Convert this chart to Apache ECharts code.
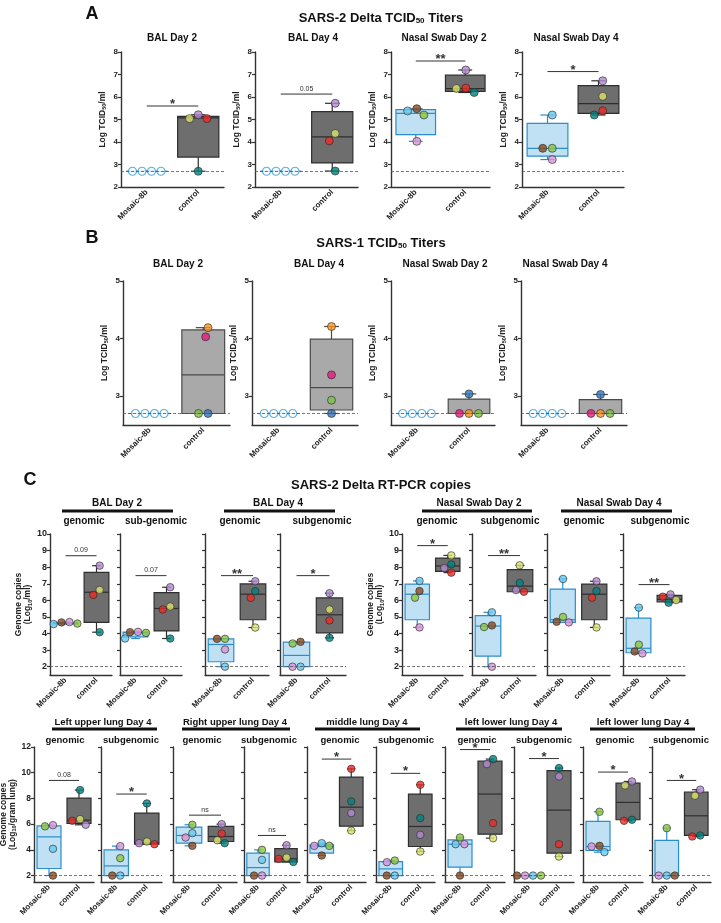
<!DOCTYPE html>
<html>
<head>
<meta charset="utf-8">
<script src="https://cdn.jsdelivr.net/npm/echarts@6/dist/echarts.min.js"></script>
<style>
html, body { margin: 0; background: #fff; }
#main { width: 721px; height: 923px; }
</style>
</head>
<body>
<div id="main"></div>
<script>
// ---------- data ----------
const groups = ['Mosaic-8b', 'control'];
// animal colours: mosaic [lightblue, pink, green, brown], control [purple, yellowgreen, red, teal]
const mosaicColors = ['#66c8f0', '#db94d9', '#8cc640', '#8a4a1e'];
const controlColors = ['#b388d0', '#d9e46c', '#ec2a25', '#00827d'];
// SARS-1 control animals [orange, magenta, blue, green]
const sars1Colors = ['#f7941e', '#e5197d', '#2f77bd', '#7bc143'];

// A: SARS-2 Delta TCID50 (log TCID50/ml)
const aTitles = ['BAL Day 2', 'BAL Day 4', 'Nasal Swab Day 2', 'Nasal Swab Day 4'];
const aMosaic = [[2.7, 2.7, 2.7, 2.7], [2.7, 2.7, 2.7, 2.7], [5.38, 4.03, 5.2, 5.48], [5.2, 3.22, 3.72, 3.72]];
const aControl = [[5.21, 5.04, 5.04, 2.7], [5.72, 4.38, 4.05, 2.71], [7.2, 6.38, 6.4, 6.2], [6.72, 6.03, 5.39, 5.2]];
const aMosaicBox = [[2.7, 2.7, 2.7, 2.7, 2.7], [2.7, 2.7, 2.7, 2.7, 2.7], [4.03, 4.33, 5.27, 5.44, 5.48], [3.22, 3.37, 3.72, 4.83, 5.2]];
const aControlBox = [[2.7, 3.33, 5.07, 5.14, 5.21], [2.71, 3.07, 4.23, 5.35, 5.72], [6.2, 6.25, 6.37, 6.97, 7.2], [5.2, 5.27, 5.71, 6.51, 6.72]];
const aSig = [[5.6, '*'], [6.13, '0.05'], [7.6, '**'], [7.13, '*']];
const aOpen = [true, true, false, false];

// B: SARS-1 TCID50 (log TCID50/ml)
const bTitles = ['BAL Day 2', 'BAL Day 4', 'Nasal Swab Day 2', 'Nasal Swab Day 4'];
const bMosaic = [[2.7, 2.7, 2.7, 2.7], [2.7, 2.7, 2.7, 2.7], [2.7, 2.7, 2.7, 2.7], [2.7, 2.7, 2.7, 2.7]];
const bControl = [[4.19, 4.03, 2.7, 2.7], [4.21, 3.37, 2.7, 2.93], [2.7, 2.7, 3.04, 2.7], [2.7, 2.7, 3.03, 2.7]];
const bMosaicBox = [[2.7, 2.7, 2.7, 2.7, 2.7], [2.7, 2.7, 2.7, 2.7, 2.7], [2.7, 2.7, 2.7, 2.7, 2.7], [2.7, 2.7, 2.7, 2.7, 2.7]];
const bControlBox = [[2.7, 2.7, 3.37, 4.15, 4.19], [2.7, 2.76, 3.15, 3.99, 4.21], [2.7, 2.7, 2.7, 2.95, 3.04], [2.7, 2.7, 2.7, 2.94, 3.03]];

// C row 1: RT-PCR copies (log10/ml)
const cGroups = ['BAL Day 2', 'BAL Day 4', 'Nasal Swab Day 2', 'Nasal Swab Day 4'];
const cSub = ['genomic', 'sub-genomic', 'genomic', 'subgenomic', 'genomic', 'subgenomic', 'genomic', 'subgenomic'];
const cMosaic = [[4.57, 4.69, 4.6, 4.67], [3.7, 4.1, 4.04, 4.08], [2.0, 3.04, 3.68, 3.68], [2.0, 2.0, 3.4, 3.5],
  [7.17, 4.37, 6.16, 6.56], [5.28, 2.0, 4.39, 4.49], [7.29, 4.67, 5.0, 4.71], [5.56, 2.8, 3.33, 2.92]];
const cControl = [[8.09, 6.63, 6.33, 4.08], [6.79, 5.63, 5.45, 3.7], [7.15, 4.36, 6.15, 6.55], [6.43, 5.45, 4.79, 3.74],
  [7.95, 8.71, 7.67, 8.17], [6.62, 8.11, 6.52, 7.05], [7.15, 4.37, 6.16, 6.56], [6.36, 6.02, 6.22, 5.86]];
const cMosaicBox = [[4.57, 4.58, 4.62, 4.66, 4.69], [3.7, 3.8, 4.05, 4.09, 4.1], [2.0, 2.3, 3.34, 3.68, 3.68], [2.0, 2.0, 2.68, 3.48, 3.5],
  [4.37, 4.83, 6.37, 6.98, 7.17], [2.0, 2.64, 4.45, 5.08, 5.28], [4.67, 4.67, 4.83, 6.68, 7.29], [2.8, 2.84, 3.11, 4.93, 5.56]];
const cControlBox = [[4.08, 4.67, 6.49, 7.69, 8.09], [3.7, 4.16, 5.51, 6.47, 6.79], [4.36, 4.83, 6.37, 6.99, 7.15], [3.74, 4.04, 5.13, 6.15, 6.43],
  [7.67, 7.75, 8.07, 8.55, 8.71], [6.52, 6.52, 6.86, 7.85, 8.11], [4.37, 4.83, 6.37, 6.98, 7.15], [5.86, 5.9, 6.06, 6.3, 6.36]];
const cSig = [[8.69, '0.09'], [7.49, '0.07'], [7.49, '**'], [7.49, '*'], [9.3, '*'], [8.7, '**'], null, [6.95, '**']];

// C row 2: lung tissue copies (log10/gram lung)
const dGroups = ['Left upper lung Day 4', 'Right upper lung Day 4', 'middle lung Day 4', 'left lower lung Day 4', 'left lower lung Day 4'];
const dSub = ['genomic', 'subgenomic', 'genomic', 'subgenomic', 'genomic', 'subgenomic', 'genomic', 'subgenomic', 'genomic', 'subgenomic'];
const dMosaic = [[4.08, 5.92, 5.83, 2.0], [2.0, 4.29, 3.35, 2.0], [5.3, 4.96, 5.95, 4.31], [3.22, 2.0, 4.0, 2.0], [4.52, 4.31, 4.31, 3.56],
  [2.0, 3.04, 3.17, 2.0], [4.44, 4.44, 4.96, 2.0], [2.0, 2.0, 2.0, 2.0], [3.82, 4.26, 6.96, 4.31], [2.0, 2.0, 5.69, 2.0]];
const dControl = [[5.95, 6.39, 6.26, 8.65], [4.52, 4.65, 4.44, 7.61], [6.0, 4.75, 5.27, 4.52], [4.36, 3.4, 3.3, 3.06], [6.86, 5.5, 10.3, 7.77],
  [5.17, 3.87, 9.06, 6.47], [10.67, 4.91, 6.08, 11.06], [9.71, 3.48, 4.44, 10.36], [9.32, 9.01, 6.26, 6.34], [8.68, 8.21, 5.04, 5.12]];
const dMosaicBox = [[2.0, 2.55, 5.01, 5.87, 5.92], [2.0, 2.0, 2.75, 4.0, 4.29], [4.31, 4.52, 5.12, 5.77, 5.95], [2.0, 2.0, 2.62, 3.74, 4.0],
  [3.56, 3.74, 4.26, 4.39, 4.52], [2.0, 2.0, 2.52, 3.09, 3.17], [2.0, 2.65, 4.44, 4.78, 4.96], [2.0, 2.0, 2.0, 2.0, 2.0],
  [3.82, 3.95, 4.26, 6.21, 6.96], [2.0, 2.0, 2.0, 4.73, 5.69]];
const dControlBox = [[5.95, 6.05, 6.31, 8.03, 8.65], [4.44, 4.44, 4.52, 6.86, 7.61], [4.52, 4.65, 5.04, 5.82, 6.0], [3.06, 3.06, 3.3, 4.1, 4.36],
  [5.5, 5.84, 7.32, 9.66, 10.3], [3.87, 4.26, 5.82, 8.34, 9.06], [4.91, 5.22, 8.34, 10.9, 11.06], [3.48, 3.74, 7.09, 10.16, 10.36],
  [6.26, 6.34, 7.69, 9.19, 9.32], [5.04, 5.12, 6.65, 8.5, 8.68]];
const dSig = [[9.4, '0.08'], [8.34, '*'], [6.7, 'ns'], [5.12, 'ns'], [11.06, '*'], [9.95, '*'], [11.8, '*'], [11.1, '*'], [10.05, '*'], [9.4, '*']];

// ---------- layout ----------
const FONT = '"Liberation Sans", Arial, Helvetica, sans-serif';
const aX = [[121, 224], [255, 358], [391, 490], [522, 624]];
const bX = [[123, 230], [252, 358], [391, 495], [521, 627]];
const cX = [[50, 112], [120, 182], [205, 269], [280, 346], [402, 463], [472, 536], [547, 610], [623, 685]];
const dX = [[34, 94], [101, 162], [173, 237], [244, 300], [307, 366], [376, 435], [445, 505], [514, 574], [583, 643], [652, 711]];

const chart = echarts.init(document.getElementById('main'));
const grid = [], xAxis = [], yAxis = [], series = [], graphic = [];

// simple beeswarm, offsets in px
function swarm(vals, pxPerUnit, d) {
  const order = vals.map((v, i) => i).sort((a, b) => vals[b] - vals[a]);
  const placed = [], xs = [];
  order.forEach(i => {
    const y = vals[i] * pxPerUnit;
    const forb = [];
    placed.forEach(p => {
      const dy = Math.abs(p.y - y);
      if (dy < d) { const h = Math.sqrt(d * d - dy * dy); forb.push([p.x - h, p.x + h]); }
    });
    const cands = [0];
    forb.forEach(f => cands.push(f[0], f[1]));
    cands.sort((a, b) => Math.abs(a) - Math.abs(b) || a - b);
    const x = cands.find(c => forb.every(f => c <= f[0] + 1e-6 || c >= f[1] - 1e-6));
    xs[i] = x;
    placed.push({ x: x, y: y });
  });
  const mn = Math.min(...xs), mx = Math.max(...xs);
  return xs.map(x => x - (mn + mx) / 2);
}

function addPlot(p) {
  const i = grid.length;
  grid.push({ left: p.x[0], width: p.x[1] - p.x[0], top: p.top, height: p.h, outerBoundsMode: 'none', containLabel: false });
  xAxis.push({
    gridIndex: i, type: 'category', data: groups,
    axisLine: { onZero: false, lineStyle: { color: '#333', width: 1.4 } },
    axisTick: { show: false },
    axisLabel: { rotate: 45, interval: 0, margin: 4, fontSize: 8, fontWeight: 'bold', color: '#222', fontFamily: FONT }
  });
  yAxis.push({
    gridIndex: i, type: 'value', min: p.min, max: p.max,
    splitLine: { show: false },
    axisLine: { show: true, lineStyle: { color: '#333', width: 1.4 } },
    axisTick: { show: true, length: 3, customValues: p.ticks, lineStyle: { color: '#333', width: 1.2 } },
    axisLabel: { show: p.labels, customValues: p.ticks, margin: 3, fontSize: p.fs, fontWeight: 'bold', color: '#222', fontFamily: FONT },
    name: p.name || '', nameLocation: 'middle', nameGap: p.nameGap || 14, nameRotate: 90,
    nameTextStyle: {
      fontFamily: FONT, color: '#222', lineHeight: 9, align: 'center',
      rich: {
        n: { fontSize: 8.5, fontWeight: 'bold', fontFamily: FONT, color: '#222', lineHeight: 9 },
        s: { fontSize: 5.5, fontWeight: 'bold', fontFamily: FONT, color: '#222', lineHeight: 9, padding: [4, 0, 0, 0] }
      }
    }
  });
  const ppu = p.h / (p.max - p.min);
  const pts = [];
  [p.mosaic, p.control].forEach((vals, g) => {
    const offs = swarm(vals, ppu, p.d);
    vals.forEach((v, k) => {
      const open = g === 0 && p.open;
      pts.push({
        value: [g, v], symbolOffset: [offs[k], 0],
        itemStyle: open
          ? { color: '#fff', borderColor: '#3a9bd8', borderWidth: 1.2 }
          : { color: (g === 0 ? mosaicColors : p.ctrlColors)[k], borderColor: '#2a2a2a', borderWidth: 0.8 }
      });
    });
  });
  // limit of detection
  series.push({
    type: 'line', xAxisIndex: i, yAxisIndex: i, data: [], z: 1, silent: true,
    markLine: { silent: true, symbol: 'none', label: { show: false }, animation: false,
      lineStyle: { type: [3, 2], color: '#555', width: 0.8 }, data: [{ yAxis: p.lod }] }
  });
  // boxes
  const boxes = [[0].concat(p.mBox), [1].concat(p.cBox)];
  series.push({
    type: 'custom', xAxisIndex: i, yAxisIndex: i, z: 2, silent: true,
    encode: { x: 0, y: [1, 2, 3, 4, 5] }, data: boxes,
    renderItem: function (params, api) {
      const g = api.value(0);
      const c = [1, 2, 3, 4, 5].map(k => api.coord([g, api.value(k)]));
      const band = api.size([1, 0])[0];
      const w = band * 0.8, cap = w * 0.35, x = c[0][0];
      const stroke = g === 0 ? '#2b8dcd' : p.cStroke;
      const fill = g === 0 ? '#bfe1f3' : p.cFill;
      const ls = { stroke: stroke, lineWidth: 1.2 };
      return { type: 'group', children: [
        { type: 'line', shape: { x1: x, y1: c[0][1], x2: x, y2: c[1][1] }, style: ls },
        { type: 'line', shape: { x1: x, y1: c[3][1], x2: x, y2: c[4][1] }, style: ls },
        { type: 'line', shape: { x1: x - cap / 2, y1: c[0][1], x2: x + cap / 2, y2: c[0][1] }, style: ls },
        { type: 'line', shape: { x1: x - cap / 2, y1: c[4][1], x2: x + cap / 2, y2: c[4][1] }, style: ls },
        { type: 'rect', shape: { x: x - w / 2, y: c[3][1], width: w, height: c[1][1] - c[3][1] }, style: { fill: fill, stroke: stroke, lineWidth: 1.2 } },
        { type: 'line', shape: { x1: x - w / 2, y1: c[2][1], x2: x + w / 2, y2: c[2][1] }, style: ls }
      ] };
    }
  });
  series.push({ type: 'scatter', xAxisIndex: i, yAxisIndex: i, z: 3, silent: true, symbolSize: p.sym, data: pts });
  if (p.sig) {
    const text = p.sig[1];
    series.push({
      type: 'custom', xAxisIndex: i, yAxisIndex: i, z: 4, silent: true,
      encode: { x: 0, y: 1 }, data: [[0, p.sig[0]]],
      renderItem: function (params, api) {
        const a = api.coord([0, api.value(1)]), b = api.coord([1, api.value(1)]);
        const star = text.indexOf('*') >= 0;
        return { type: 'group', children: [
          { type: 'line', shape: { x1: a[0], y1: a[1], x2: b[0], y2: b[1] }, style: { stroke: '#333', lineWidth: 1 } },
          { type: 'text', style: { text: text, x: (a[0] + b[0]) / 2, y: star ? a[1] + 5 : a[1] - 2,
            align: 'center', verticalAlign: 'bottom', fill: '#333',
            font: star ? 'bold 13px ' + FONT : '7px ' + FONT } }
        ] };
      }
    });
  }
}

const tcidName = '{n|Log TCID}{s|50}{n|/ml}';
aX.forEach((x, k) => addPlot({
  x: x, top: 52, h: 135, min: 2, max: 8, ticks: [2, 3, 4, 5, 6, 7, 8], labels: true, fs: 8,
  name: tcidName, nameGap: 14, lod: 2.7, d: 9.5, sym: 8,
  mosaic: aMosaic[k], control: aControl[k], mBox: aMosaicBox[k], cBox: aControlBox[k],
  sig: aSig[k], open: aOpen[k], ctrlColors: controlColors, cFill: '#6e6e6e', cStroke: '#2e2e2e'
}));
bX.forEach((x, k) => addPlot({
  x: x, top: 281, h: 144, min: 2.5, max: 5, ticks: [3, 4, 5], labels: true, fs: 8,
  name: tcidName, nameGap: 14, lod: 2.7, d: 9.5, sym: 8,
  mosaic: bMosaic[k], control: bControl[k], mBox: bMosaicBox[k], cBox: bControlBox[k],
  sig: null, open: true, ctrlColors: sars1Colors, cFill: '#a9a9a9', cStroke: '#4a4a4a'
}));
cX.forEach((x, k) => addPlot({
  x: x, top: 534, h: 141, min: 1.5, max: 10, ticks: [2, 3, 4, 5, 6, 7, 8, 9, 10], labels: k === 0 || k === 4, fs: 9,
  name: (k === 0 || k === 4) ? '{n|Genome copies}\n{n|(Log}{s|10}{n|/ml)}' : '', nameGap: 17, lod: 2, d: 8, sym: 7.5,
  mosaic: cMosaic[k], control: cControl[k], mBox: cMosaicBox[k], cBox: cControlBox[k],
  sig: cSig[k], open: false, ctrlColors: controlColors, cFill: '#6e6e6e', cStroke: '#2e2e2e'
}));
dX.forEach((x, k) => addPlot({
  x: x, top: 747, h: 135, min: 1.5, max: 12, ticks: [2, 4, 6, 8, 10, 12], labels: k === 0, fs: 8.5,
  name: k === 0 ? '{n|Genome copies}\n{n|(Log}{s|10}{n|/gram lung)}' : '', nameGap: 13, lod: 2, d: 8, sym: 7.5,
  mosaic: dMosaic[k], control: dControl[k], mBox: dMosaicBox[k], cBox: dControlBox[k],
  sig: dSig[k], open: false, ctrlColors: controlColors, cFill: '#6e6e6e', cStroke: '#2e2e2e'
}));

// ---------- text ----------
function txt(text, x, y, size, extra) {
  graphic.push({ type: 'text', silent: true, style: Object.assign({
    text: text, x: x, y: y, align: 'center', verticalAlign: 'middle',
    font: 'bold ' + size + 'px ' + FONT, fill: '#111'
  }, extra || {}) });
}
function bar(x1, x2, y) {
  graphic.push({ type: 'line', silent: true, shape: { x1: x1, y1: y, x2: x2, y2: y }, style: { stroke: '#111', lineWidth: 3 } });
}
const titleRich = {
  t: { fontSize: 13, fontWeight: 'bold', fontFamily: FONT, fill: '#111', lineHeight: 16 },
  s: { fontSize: 8, fontWeight: 'bold', fontFamily: FONT, fill: '#111', lineHeight: 16, padding: [6, 0, 0, 0] }
};
txt('A', 92, 14, 18);
txt('B', 92, 238, 18);
txt('C', 30, 480, 18);
txt('{t|SARS-2 Delta TCID}{s|50}{t| Titers}', 381, 18, 13, { rich: titleRich });
txt('{t|SARS-1 TCID}{s|50}{t| Titers}', 381, 243, 13, { rich: titleRich });
txt('SARS-2 Delta RT-PCR copies', 381, 485, 13);

const aTitleX = [172, 313, 444, 576];
aTitles.forEach((t, k) => txt(t, aTitleX[k], 38, 10));
const bTitleX = [178, 319, 445, 565];
bTitles.forEach((t, k) => txt(t, bTitleX[k], 264, 10));

const cGroupX = [117, 278, 479, 619];
const cBars = [[62, 173], [224, 335], [422, 532], [561, 672]];
cGroups.forEach((t, k) => { txt(t, cGroupX[k], 503, 10); bar(cBars[k][0], cBars[k][1], 511); });
const cSubX = [84, 156, 240, 322, 437, 510, 584, 660];
cSub.forEach((t, k) => txt(t, cSubX[k], 521, 10));

const dGroupX = [103, 235, 367, 511, 643];
const dBars = [[52, 157], [182, 290], [315, 420], [456, 562], [590, 695]];
dGroups.forEach((t, k) => { txt(t, dGroupX[k], 722, 9.5); bar(dBars[k][0], dBars[k][1], 729); });
const dSubX = [65, 131, 202, 269, 340, 406, 477, 544, 615, 681];
dSub.forEach((t, k) => txt(t, dSubX[k], 740, 9.5));

chart.setOption({
  animation: false,
  backgroundColor: '#fff',
  textStyle: { fontFamily: FONT },
  grid: grid, xAxis: xAxis, yAxis: yAxis, series: series, graphic: graphic
});
</script>
</body>
</html>
